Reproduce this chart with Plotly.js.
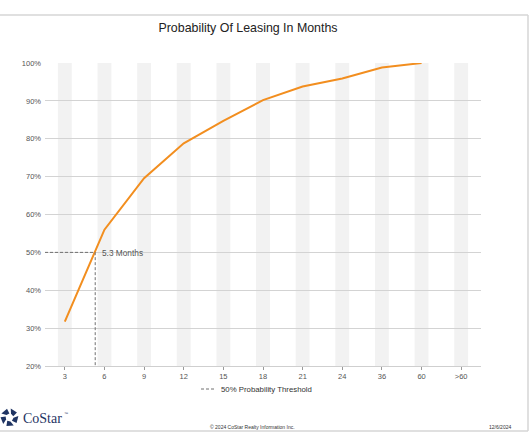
<!DOCTYPE html>
<html>
<head>
<meta charset="utf-8">
<script src="https://cdn.plot.ly/plotly-3.0.1.min.js"></script>
<style>
  html, body { margin: 0; padding: 0; background: #fff; }
  #chart { width: 531px; height: 435px; }
</style>
</head>
<body>
<div id="chart"></div>
<script>
// Leasing-time categories (months) and cumulative probability of leasing
const categories = ['3', '6', '9', '12', '15', '18', '21', '24', '36', '60', '>60'];
const months = [3, 6, 9, 12, 15, 18, 21, 24, 36, 60];
const probability = [31.7, 56.0, 69.6, 78.8, 84.7, 90.2, 93.8, 95.9, 98.8, 100.0];
const yTickValues = [20, 30, 40, 50, 60, 70, 80, 90, 100];

// 50% threshold and the month at which it is reached
const thresholdPct = 50;
const thresholdMonths = 5.3;
const thresholdLabel = thresholdMonths.toFixed(1) + ' Months';
const legendLabel = '50% Probability Threshold';

const titleText = 'Probability Of Leasing In Months';
const copyrightText = '\u00a9 2024 CoStar Realty Information Inc.';
const dateText = '12/6/2024';
const brandText = 'CoStar';

// category index positions on the x axis
const catIndex = categories.map((_, i) => i);

// fractional x position of the threshold month between its neighbouring categories
function monthToIndex(m) {
  for (let i = 0; i < months.length - 1; i++) {
    if (m >= months[i] && m <= months[i + 1]) {
      return i + (m - months[i]) / (months[i + 1] - months[i]);
    }
  }
  return months.length - 1;
}
const thresholdX = monthToIndex(thresholdMonths);

// plot-area geometry in pixels, for placing decorations in paper coordinates
const W = 531, H = 435;
const M = { l: 45, r: 50, t: 63, b: 69 };
const plotW = W - M.l - M.r, plotH = H - M.t - M.b;
const px = x => (x - M.l) / plotW;
const py = y => (H - M.b - y) / plotH;

const FONT = '"Liberation Sans", Arial, sans-serif';
const ORANGE = '#f28e1f';
const DASH_GREY = '#707070';

const traces = [
  {
    type: 'scatter',
    mode: 'lines',
    x: catIndex.slice(0, probability.length),
    y: probability,
    line: { color: ORANGE, width: 2 },
    hoverinfo: 'skip',
    showlegend: false
  },
  {
    // threshold guide: across at 50%, then down to the axis
    type: 'scatter',
    mode: 'lines',
    x: [-0.5, thresholdX, thresholdX],
    y: [thresholdPct, thresholdPct, yTickValues[0]],
    line: { color: DASH_GREY, width: 1, dash: '3px,2px' },
    hoverinfo: 'skip',
    showlegend: false,
    cliponaxis: false
  }
];

const shapes = [];

// light column bands behind every category
catIndex.forEach(i => {
  shapes.push({
    type: 'rect', layer: 'below', xref: 'x', yref: 'paper',
    x0: i - 0.175, x1: i + 0.175, y0: 0, y1: 1,
    fillcolor: '#f2f2f2', line: { width: 0 }
  });
});

// page frame
const frameColor = '#d6d6d6';
shapes.push(
  { type: 'line', xref: 'paper', yref: 'paper', x0: px(0), x1: px(528), y0: py(15), y1: py(15), line: { color: frameColor, width: 1.5 } },
  { type: 'line', xref: 'paper', yref: 'paper', x0: px(528), x1: px(528), y0: py(15), y1: py(431), line: { color: frameColor, width: 1.5 } },
  { type: 'line', xref: 'paper', yref: 'paper', x0: px(0), x1: px(528), y0: py(431), y1: py(431), line: { color: frameColor, width: 1.5 } }
);

// legend sample line
shapes.push({
  type: 'line', xref: 'paper', yref: 'paper',
  x0: px(201), x1: px(214), y0: py(389), y1: py(389),
  line: { color: DASH_GREY, width: 1, dash: '3px,2px' }
});

// brand mark: ring of five wedges
(function () {
  const cx = 9.5, cy = 417.5, r0 = 4, r1 = 9;
  const n = 5;
  for (let k = 0; k < n; k++) {
    const a0 = (k * 72 - 90 + 8) * Math.PI / 180;
    const a1 = (k * 72 - 90 + 56) * Math.PI / 180;
    const pts = [
      [cx + r1 * Math.cos(a0), cy + r1 * Math.sin(a0)],
      [cx + r1 * Math.cos(a1), cy + r1 * Math.sin(a1)],
      [cx + r0 * Math.cos(a1 + 0.25), cy + r0 * Math.sin(a1 + 0.25)],
      [cx + r0 * Math.cos(a0 + 0.25), cy + r0 * Math.sin(a0 + 0.25)]
    ];
    const d = 'M' + pts.map(p => px(p[0]).toFixed(5) + ',' + py(p[1]).toFixed(5)).join('L') + 'Z';
    shapes.push({
      type: 'path', xref: 'paper', yref: 'paper', path: d,
      fillcolor: '#1f3463', line: { width: 0 }
    });
  }
})();

const annotations = [
  {
    xref: 'x', yref: 'y', x: thresholdX, y: thresholdPct,
    text: thresholdLabel, showarrow: false,
    xanchor: 'left', yanchor: 'middle', xshift: 5, yshift: -1,
    font: { family: FONT, size: 8.3, color: '#555' }
  },
  {
    xref: 'paper', yref: 'paper', x: px(219), y: py(389),
    text: legendLabel, showarrow: false,
    xanchor: 'left', yanchor: 'middle',
    font: { family: FONT, size: 7.8, color: '#333' }
  },
  {
    xref: 'paper', yref: 'paper', x: px(21), y: py(418),
    text: brandText, showarrow: false,
    xanchor: 'left', yanchor: 'middle',
    font: { family: '"Liberation Serif", "DejaVu Serif", serif', size: 14, color: '#1f3463' }
  },
  {
    xref: 'paper', yref: 'paper', x: px(62), y: py(413),
    text: '\u2122', showarrow: false,
    xanchor: 'left', yanchor: 'middle',
    font: { family: FONT, size: 4, color: '#1f3463' }
  },
  {
    xref: 'paper', yref: 'paper', x: px(252), y: py(427),
    text: copyrightText, showarrow: false,
    xanchor: 'center', yanchor: 'middle',
    font: { family: FONT, size: 5, color: '#333' }
  },
  {
    xref: 'paper', yref: 'paper', x: px(513), y: py(427),
    text: dateText, showarrow: false,
    xanchor: 'right', yanchor: 'middle',
    font: { family: FONT, size: 5, color: '#333' }
  }
];

const layout = {
  width: W, height: H,
  margin: M,
  paper_bgcolor: '#fff',
  plot_bgcolor: 'rgba(0,0,0,0)',
  showlegend: false,
  font: { family: FONT, color: '#555' },
  title: {
    text: titleText,
    xref: 'container', yref: 'container',
    x: 248 / W, y: 1 - 28 / H,
    xanchor: 'center', yanchor: 'middle',
    font: { family: FONT, size: 12.4, color: '#222' }
  },
  xaxis: {
    range: [-0.5, categories.length - 0.5],
    tickvals: catIndex,
    ticktext: categories,
    showgrid: false,
    zeroline: false,
    showline: true,
    linecolor: '#cfcfcf',
    linewidth: 1,
    ticks: 'outside',
    ticklen: 3,
    tickwidth: 1,
    tickcolor: '#999',
    tickfont: { family: FONT, size: 7.5, color: '#555' },
    fixedrange: true
  },
  yaxis: {
    range: [yTickValues[0], yTickValues[yTickValues.length - 1]],
    tickvals: yTickValues,
    ticktext: yTickValues.map(v => v + '%'),
    showgrid: true,
    gridcolor: '#d3d3d3',
    gridwidth: 1,
    zeroline: false,
    showline: false,
    ticks: '',
    ticklabelstandoff: 3,
    tickfont: { family: FONT, size: 7.5, color: '#555' },
    fixedrange: true
  },
  shapes: shapes,
  annotations: annotations
};

Plotly.newPlot('chart', traces, layout, { staticPlot: true, displayModeBar: false });
</script>
</body>
</html>
